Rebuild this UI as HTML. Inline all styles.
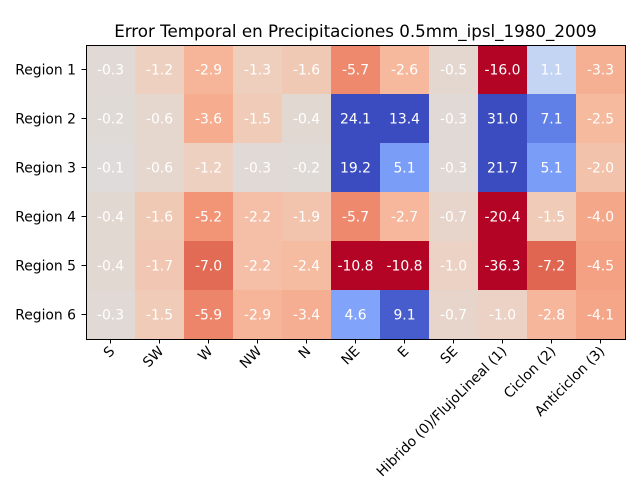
<!DOCTYPE html>
<html><head><meta charset="utf-8"><style>
body{margin:0;background:#fff;}
svg{font-family:"DejaVu Sans","Liberation Sans",sans-serif;}
</style></head><body>
<svg id="chart" width="640" height="480" viewBox="0 0 640 480">
<rect width="640" height="480" fill="#fff"/>
<text x="355.5" y="37" text-anchor="middle" font-size="16.7" fill="#000">Error Temporal en Precipitaciones 0.5mm_ipsl_1980_2009</text>
<g id="cells"></g>
<g id="xt"></g>
<g id="yt"></g>
<rect x="86.5" y="45.5" width="539" height="294" fill="none" stroke="#000" stroke-width="1"/>
</svg>
<script>
const columns=["S","SW","W","NW","N","NE","E","SE","Hibrido (0)/FlujoLineal (1)","Ciclon (2)","Anticiclon (3)"];
const rows=["Region 1","Region 2","Region 3","Region 4","Region 5","Region 6"];
const r1=[-0.3,-1.2,-2.9,-1.3,-1.6,-5.7,-2.6,-0.5,-16.0,1.1,-3.3];
const r2=[-0.2,-0.6,-3.6,-1.5,-0.4,24.1,13.4,-0.3,31.0,7.1,-2.5];
const r3=[-0.1,-0.6,-1.2,-0.3,-0.2,19.2,5.1,-0.3,21.7,5.1,-2.0];
const r4=[-0.4,-1.6,-5.2,-2.2,-1.9,-5.7,-2.7,-0.7,-20.4,-1.5,-4.0];
const r5=[-0.4,-1.7,-7.0,-2.2,-2.4,-10.8,-10.8,-1.0,-36.3,-7.2,-4.5];
const r6=[-0.3,-1.5,-5.9,-2.9,-3.4,4.6,9.1,-0.7,-1.0,-2.8,-4.1];
const values=[r1,r2,r3,r4,r5,r6];
const vmin=-10,vmax=10;
const X0=86,Y0=45,W=539,H=294;
const cw=W/columns.length,ch=H/rows.length;
const xPos=i=>X0+i*cw, yPos=j=>Y0+j*ch;
const stops=[[0,[59,76,192]],[0.125,[91,122,229]],[0.25,[123,159,249]],[0.375,[158,190,255]],[0.4375,[192,212,245]],[0.5,[221,220,220]],[0.5625,[238,207,190]],[0.625,[246,186,159]],[0.75,[244,154,123]],[0.875,[221,95,75]],[1,[180,4,38]]];
function cmap(t){t=Math.max(0,Math.min(1,t));for(let k=1;k<stops.length;k++){if(t<=stops[k][0]){const a=stops[k-1],b=stops[k];const f=(t-a[0])/(b[0]-a[0]);const c=a[1].map((v,i)=>Math.round(v+(b[1][i]-v)*f));return `rgb(${c.join(',')})`;}}return 'rgb(180,4,38)';}
const NS="http://www.w3.org/2000/svg";
const cells=document.getElementById('cells'),xt=document.getElementById('xt'),yt=document.getElementById('yt');
values.forEach((row,j)=>row.forEach((v,i)=>{
 const t=1-(v-vmin)/(vmax-vmin);
 const r=document.createElementNS(NS,'rect');
 r.setAttribute('x',xPos(i));r.setAttribute('y',yPos(j));r.setAttribute('width',cw+0.5);r.setAttribute('height',ch+0.5);
 r.setAttribute('fill',cmap(t));
 
 
 cells.appendChild(r);
 const tx=document.createElementNS(NS,'text');
 tx.setAttribute('x',xPos(i)+cw/2);tx.setAttribute('y',yPos(j)+ch/2+5);
 tx.setAttribute('text-anchor','middle');tx.setAttribute('font-size','13.9');tx.setAttribute('fill','#fff');
 tx.textContent=v.toFixed(1);
 
 
 cells.appendChild(tx);
}));
columns.forEach((c,i)=>{
 const x=xPos(i)+cw/2;
 const l=document.createElementNS(NS,'line');
 l.setAttribute('x1',x);l.setAttribute('x2',x);l.setAttribute('y1',339);l.setAttribute('y2',343.5);l.setAttribute('stroke','#000');
 
 
 xt.appendChild(l);
 const t=document.createElementNS(NS,'text');
 t.setAttribute('transform',`translate(${x+5},${352}) rotate(-45)`);
 t.setAttribute('text-anchor','end');t.setAttribute('font-size','13.9');t.setAttribute('fill','#000');
 t.textContent=c;
 
 
 xt.appendChild(t);
});
rows.forEach((r,j)=>{
 const y=yPos(j)+ch/2;
 const l=document.createElementNS(NS,'line');
 l.setAttribute('x1',81.5);l.setAttribute('x2',86);l.setAttribute('y1',y);l.setAttribute('y2',y);l.setAttribute('stroke','#000');
 
 
 yt.appendChild(l);
 const t=document.createElementNS(NS,'text');
 t.setAttribute('x',76);t.setAttribute('y',y+5);t.setAttribute('text-anchor','end');t.setAttribute('font-size','13.9');t.setAttribute('fill','#000');
 t.textContent=r;
 
 
 yt.appendChild(t);
});
</script>
</body></html>
